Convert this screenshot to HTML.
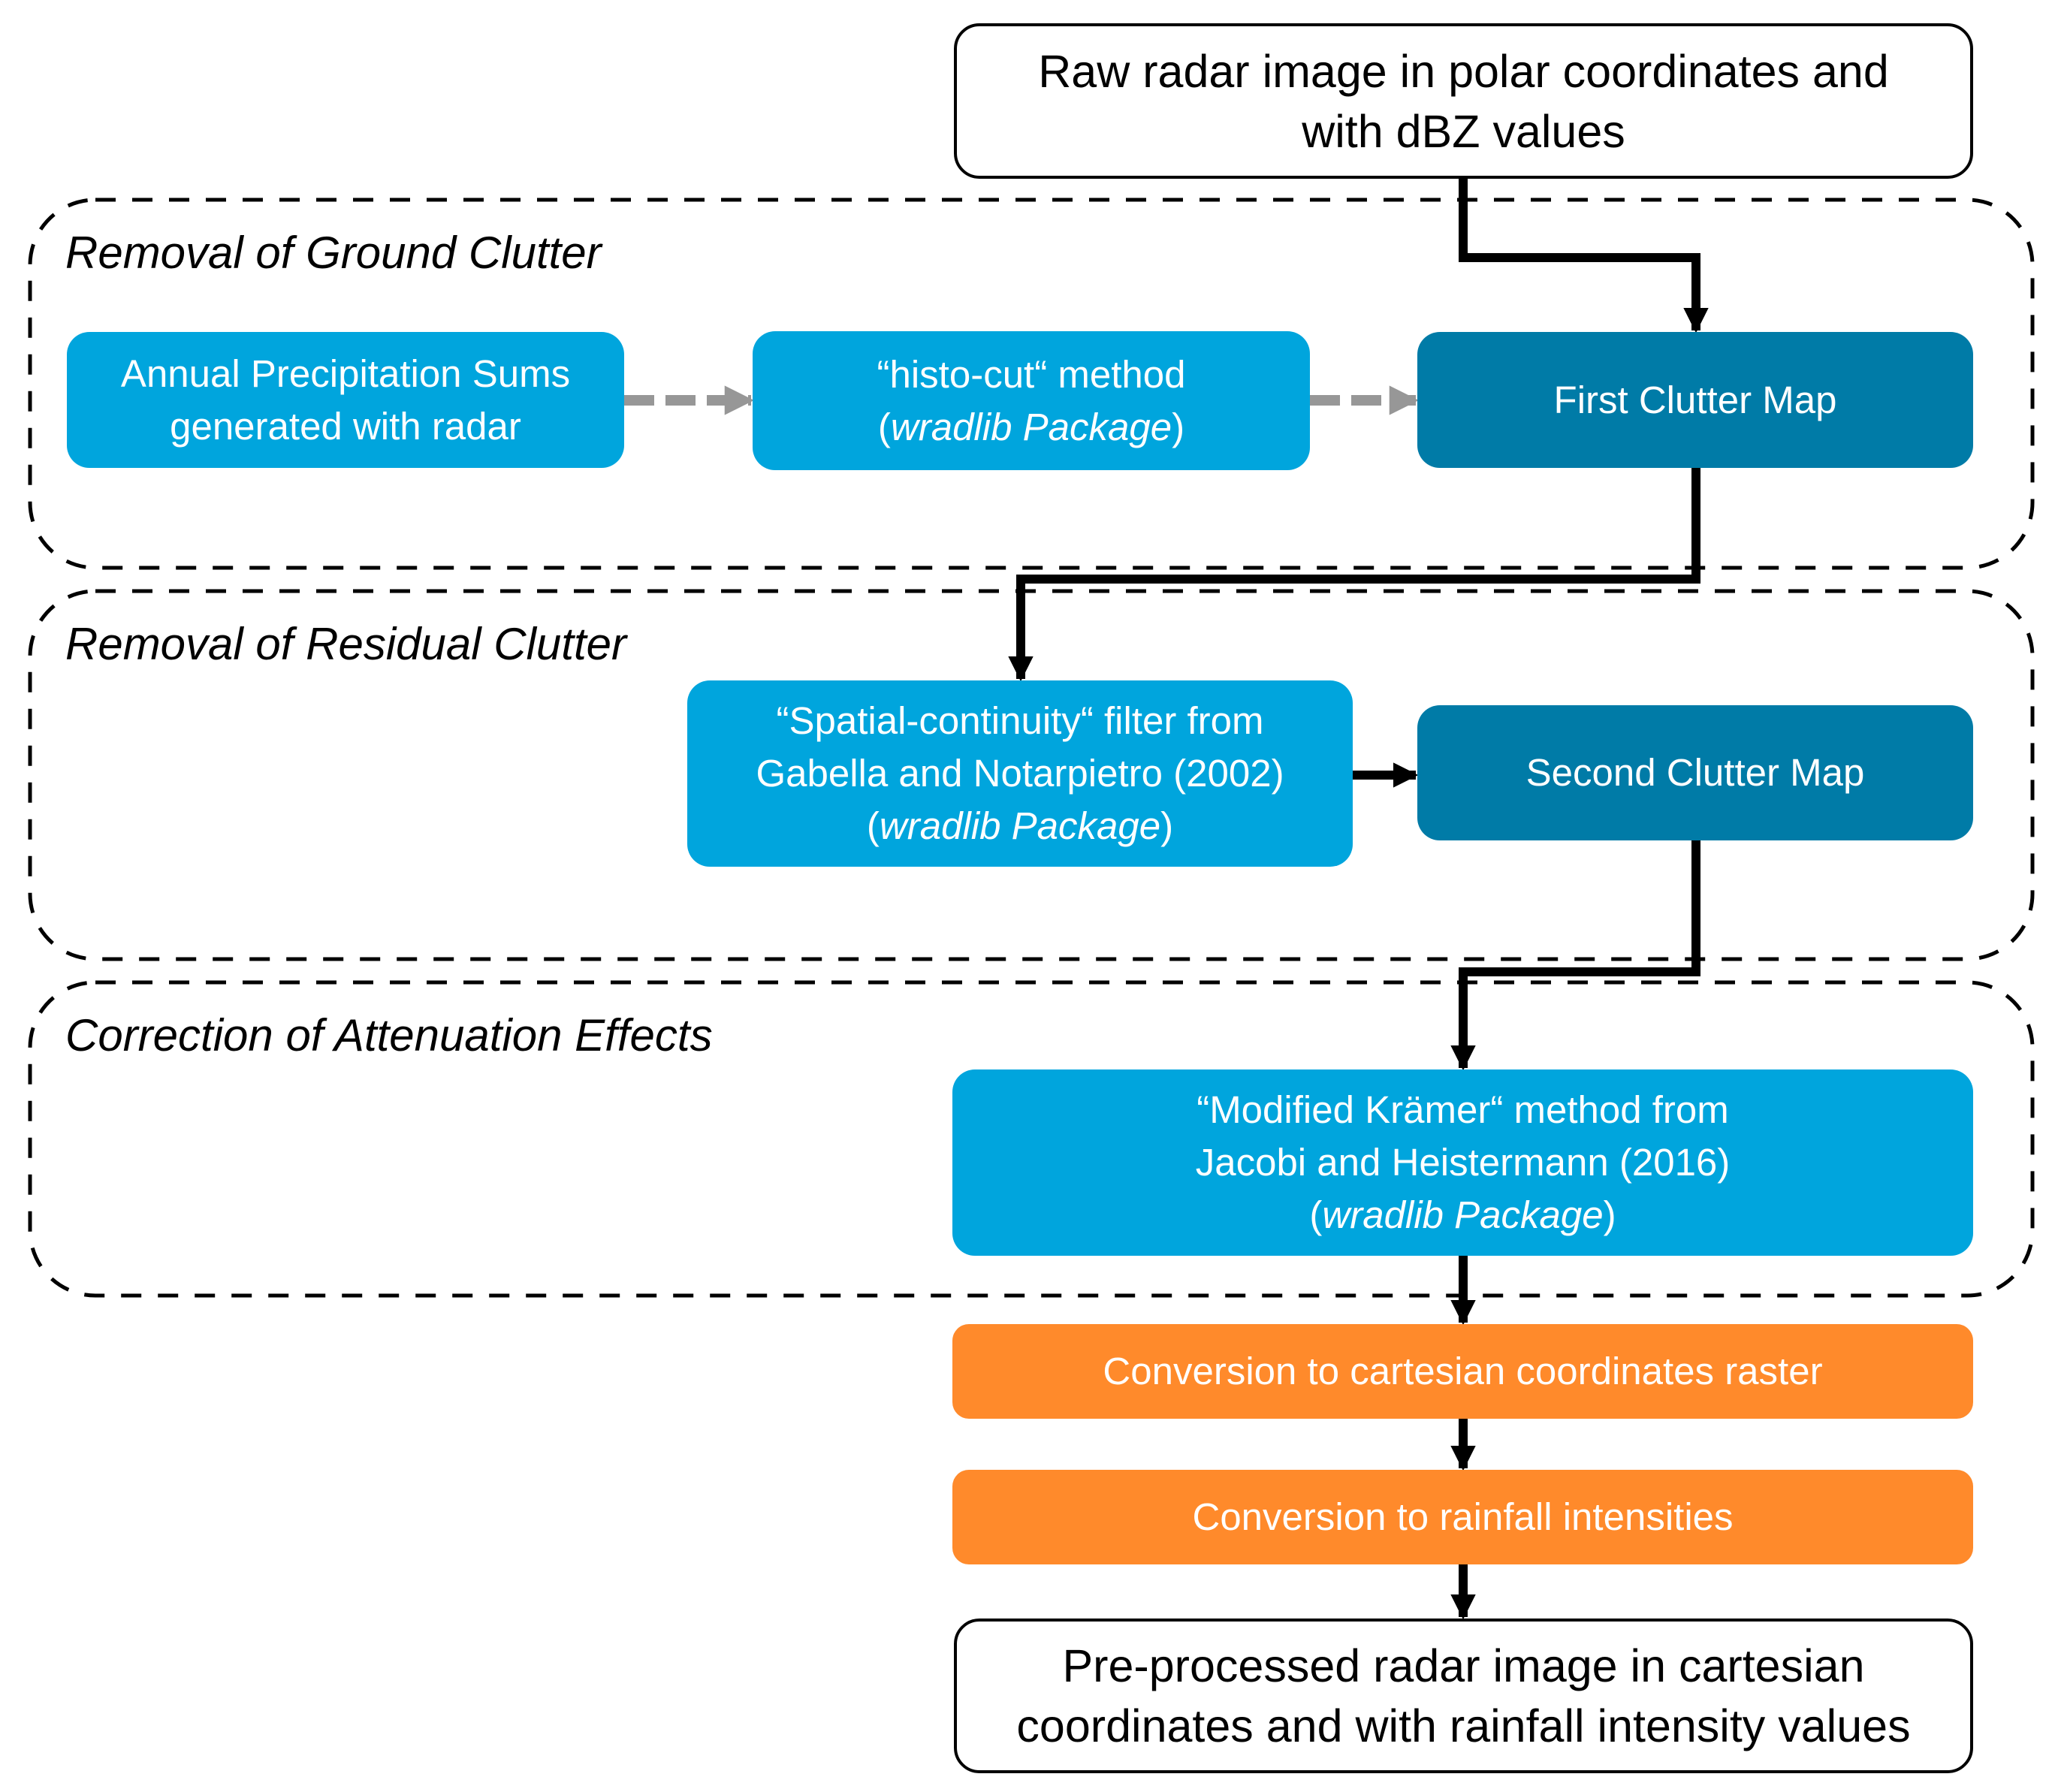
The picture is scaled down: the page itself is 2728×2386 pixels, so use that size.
<!DOCTYPE html>
<html><head><meta charset="utf-8"><style>
html,body{margin:0;padding:0;background:#fff;}
body{width:2728px;height:2386px;position:relative;overflow:hidden;font-family:"Liberation Sans",sans-serif;}
.b{position:absolute;box-sizing:border-box;display:flex;align-items:center;justify-content:center;text-align:center;color:#fff;font-size:51px;line-height:70px;border-radius:30px;white-space:nowrap;}
.b>span{display:block;}
.lb{background:#00a5dd;}
.db{background:#007ba7;}
.or{background:#ff8a2b;}
.wb{background:#fff;color:#000;border:4px solid #000;font-size:61px;line-height:80px;border-radius:34px;}
.t{position:absolute;font-style:italic;font-size:60px;color:#000;}
svg{position:absolute;left:0;top:0;}
</style></head><body>
<svg width="2728" height="2386">
<defs>
<marker id="ak" viewBox="0 0 10 10" markerWidth="2.8" markerHeight="2.8" refX="9" refY="5" orient="auto" markerUnits="strokeWidth"><path d="M0,0 L10,5 L0,10 z" fill="#000"/></marker>
<marker id="ag" viewBox="0 0 10 10" markerWidth="2.8" markerHeight="2.8" refX="9" refY="5" orient="auto" markerUnits="strokeWidth"><path d="M0,0 L10,5 L0,10 z" fill="#979797"/></marker>
</defs>
<g fill="none" stroke="#000" stroke-width="5" stroke-dasharray="27 22">
<rect x="40" y="266" width="2666" height="490" rx="87"/>
<rect x="40" y="787" width="2666" height="490" rx="87"/>
<rect x="40" y="1308" width="2666" height="417" rx="87"/>
</g>
<g fill="none" stroke="#000" stroke-width="12" marker-end="url(#ak)">
<polyline points="1948,238 1948,343 2258,343 2258,440"/>
<polyline points="2258,623 2258,771 1359,771 1359,904"/>
<polyline points="2258,1119 2258,1294 1948,1294 1948,1422"/>
<line x1="1948" y1="1672" x2="1948" y2="1761"/>
<line x1="1948" y1="1889" x2="1948" y2="1955"/>
<line x1="1948" y1="2083" x2="1948" y2="2153"/>
<line x1="1801" y1="1032" x2="1885" y2="1032"/>
</g>
<g fill="none" stroke="#979797" stroke-width="14" stroke-dasharray="40 15" marker-end="url(#ag)">
<line x1="831" y1="533" x2="1000" y2="533"/>
<line x1="1744" y1="533" x2="1885" y2="533"/>
</g>
</svg>
<div class="b wb" style="left:1270px;top:31px;width:1357px;height:207px;"><span>Raw radar image in polar coordinates and<br>with dBZ values</span></div>
<div class="t" style="left:87px;top:302px;">Removal of Ground Clutter</div>
<div class="t" style="left:87px;top:823px;">Removal of Residual Clutter</div>
<div class="t" style="left:87px;top:1344px;">Correction of Attenuation Effects</div>
<div class="b lb" style="left:89px;top:442px;width:742px;height:181px;"><span>Annual Precipitation Sums<br>generated with radar</span></div>
<div class="b lb" style="left:1002px;top:441px;width:742px;height:185px;"><span>“histo-cut“ method<br>(<i>wradlib Package</i>)</span></div>
<div class="b db" style="left:1887px;top:442px;width:740px;height:181px;"><span>First Clutter Map</span></div>
<div class="b lb" style="left:915px;top:906px;width:886px;height:248px;"><span>“Spatial-continuity“ filter from<br>Gabella and Notarpietro (2002)<br>(<i>wradlib Package</i>)</span></div>
<div class="b db" style="left:1887px;top:939px;width:740px;height:180px;"><span>Second Clutter Map</span></div>
<div class="b lb" style="left:1268px;top:1424px;width:1359px;height:248px;"><span>“Modified Krämer“ method from<br>Jacobi and Heistermann (2016)<br>(<i>wradlib Package</i>)</span></div>
<div class="b or" style="left:1268px;top:1763px;width:1359px;height:126px;border-radius:22px;"><span>Conversion to cartesian coordinates raster</span></div>
<div class="b or" style="left:1268px;top:1957px;width:1359px;height:126px;border-radius:22px;"><span>Conversion to rainfall intensities</span></div>
<div class="b wb" style="left:1270px;top:2155px;width:1357px;height:206px;"><span>Pre-processed radar image in cartesian<br>coordinates and with rainfall intensity values</span></div>
</body></html>
